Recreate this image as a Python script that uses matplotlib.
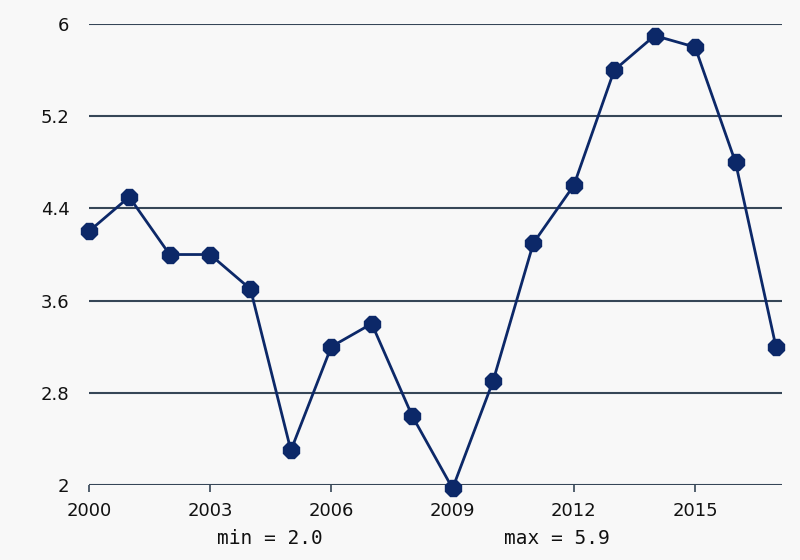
import matplotlib
matplotlib.use("Agg")
import matplotlib.pyplot as plt

years = list(range(2000, 2018))
values = [4.2, 4.5, 4.0, 4.0, 3.7, 2.3, 3.2, 3.4, 2.6, 1.97, 2.9, 4.1, 4.6, 5.6, 5.9, 5.8, 4.8, 3.2]
xticks = [2000, 2003, 2006, 2009, 2012, 2015]
yticks = [2, 2.8, 3.6, 4.4, 5.2, 6]
ytick_labels = ["2", "2.8", "3.6", "4.4", "5.2", "6"]

bg = "#f8f8f8"
navy = "#0c2868"
grid = "#364657"

fig = plt.figure(figsize=(8, 5.6), dpi=100, facecolor=bg)
ax = fig.add_axes([0.111, 0.134, 0.8665, 0.823])
ax.set_facecolor(bg)

for y in yticks:
    ax.axhline(y, color=grid, lw=1.5, zorder=1)

ax.plot(years, values, color=navy, lw=2, marker="8", markersize=12.5,
        markerfacecolor=navy, markeredgecolor=navy, zorder=3, clip_on=False)

ax.set_xlim(2000, 2017.15)
ax.set_ylim(2, 6)
ax.set_xticks(xticks)
ax.set_xticklabels([str(x) for x in xticks])
ax.set_yticks(yticks)
ax.set_yticklabels(ytick_labels)
for s in ax.spines.values():
    s.set_visible(False)
ax.tick_params(axis="x", length=5, width=1.2, color=grid, pad=7, labelsize=13)
ax.tick_params(axis="y", length=0, pad=14, labelsize=13)
for lab in ax.get_xticklabels() + ax.get_yticklabels():
    lab.set_fontfamily("DejaVu Sans")
    lab.set_color("#111111")

vmin = min(values)
vmax = max(values)
fig.text(270 / 800, 1 - 538 / 560, f"min = {vmin:.1f}", family="DejaVu Sans Mono",
         fontsize=14, ha="center", va="center", color="#111111")
fig.text(557 / 800, 1 - 538 / 560, f"max = {vmax:.1f}", family="DejaVu Sans Mono",
         fontsize=14, ha="center", va="center", color="#111111")

fig.savefig("out.png", dpi=100, facecolor=bg)
